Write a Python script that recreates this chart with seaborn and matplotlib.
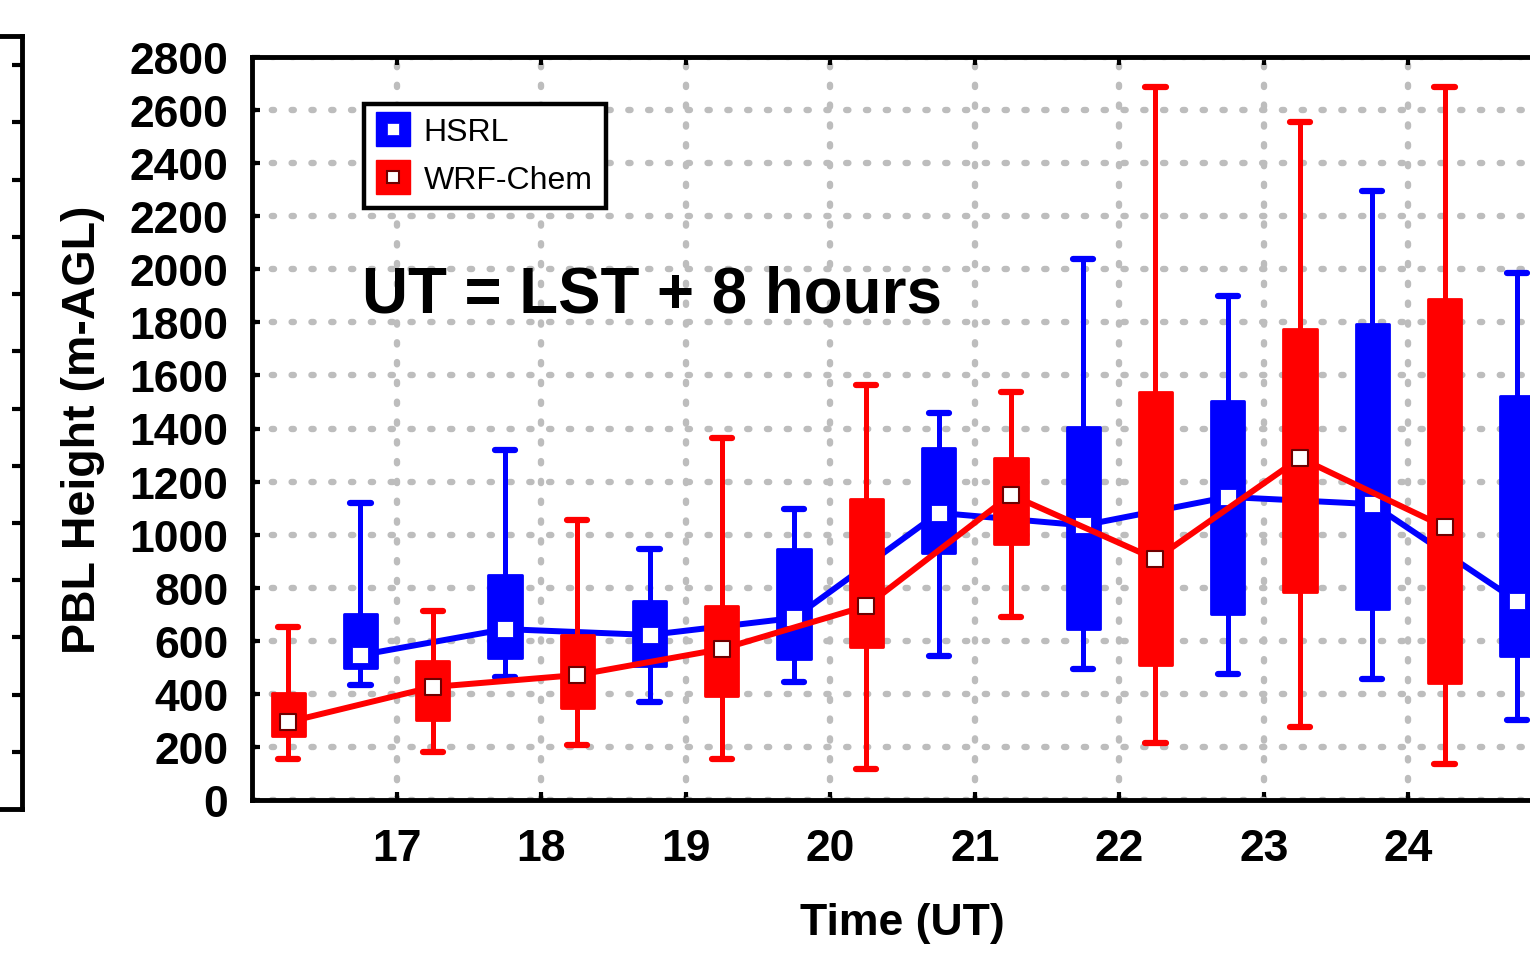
import numpy as np
import pandas as pd
import matplotlib
matplotlib.use("Agg")
import matplotlib.pyplot as plt
from matplotlib.lines import Line2D
import seaborn as sns

# Half-hour bins (UT): WRF-Chem on the quarter hour, HSRL on the three-quarter hour
wrf_time = [16.25, 17.25, 18.25, 19.25, 20.25, 21.25, 22.25, 23.25, 24.25]
hsrl_time = [16.75, 17.75, 18.75, 19.75, 20.75, 21.75, 22.75, 23.75, 24.75]

# PBL height statistics (m AGL): whisker low, lower quartile, median, upper quartile, whisker high
wrf_min = [155, 180, 207, 155, 117, 690, 215, 275, 136]
wrf_q1 = [241, 301, 347, 392, 577, 963, 509, 784, 441]
wrf_med = [294, 426, 471, 569, 731, 1150, 908, 1289, 1029]
wrf_q3 = [405, 524, 622, 731, 1134, 1290, 1538, 1775, 1888]
wrf_max = [652, 712, 1055, 1364, 1564, 1538, 2687, 2555, 2687]

hsrl_min = [433, 465, 369, 445, 543, 494, 475, 456, 301]
hsrl_q1 = [497, 535, 505, 531, 931, 644, 701, 720, 543]
hsrl_med = [546, 644, 622, 686, 1082, 1035, 1142, 1115, 750]
hsrl_q3 = [701, 848, 750, 946, 1326, 1404, 1504, 1794, 1522]
hsrl_max = [1119, 1319, 946, 1097, 1458, 2040, 1899, 2295, 1986]

y_ticks = list(range(0, 2801, 200))
x_ticks = [17, 18, 19, 20, 21, 22, 23, 24]

BLUE = "#0000ff"
RED = "#ff0000"
FONT = ["Liberation Sans", "DejaVu Sans"]
BOX_WIDTH = 0.23
CAP_WIDTH = 0.14


def five_number_frame(times, lo, q1, med, q3, hi):
    # five values per bin reproduce the quartiles exactly under linear interpolation
    rows = []
    for t, a, b, c, d, e in zip(times, lo, q1, med, q3, hi):
        for v in (a, b, c, d, e):
            rows.append({"time": t, "height": v})
    return pd.DataFrame(rows)


wrf_df = five_number_frame(wrf_time, wrf_min, wrf_q1, wrf_med, wrf_q3, wrf_max)
hsrl_df = five_number_frame(hsrl_time, hsrl_min, hsrl_q1, hsrl_med, hsrl_q3, hsrl_max)

sns.set_theme(style="white")
plt.rcParams["font.family"] = FONT
plt.rcParams["text.color"] = "black"
plt.rcParams["axes.labelcolor"] = "black"
plt.rcParams["xtick.color"] = "black"
plt.rcParams["ytick.color"] = "black"

fig = plt.figure(figsize=(15.3, 9.54), dpi=100)

# neighbouring panel, only its right edge falls inside the figure
ax0 = fig.add_axes([0.01438 - 0.5, 0.1509, 0.5, 0.9612 - 0.1509])
ax0.set_xlim(0, 1)
ax0.set_ylim(0, 13.51)
ax0.set_yticks(np.arange(1, 14))
ax0.set_xticks([])
ax0.tick_params(axis="y", which="both", direction="in", length=7, width=3,
                left=False, right=True, labelleft=False, labelright=False, color="black")
for side in ("top", "right", "bottom", "left"):
    ax0.spines[side].set_color("black")
    ax0.spines[side].set_linewidth(3.5)

ax = fig.add_axes([252 / 1530, 1 - 801 / 954, 1301 / 1530, (801 - 58) / 954])


def boxes(df, color, z):
    n_patch, n_line = len(ax.patches), len(ax.lines)
    sns.boxplot(data=df, x="time", y="height", native_scale=True, width=BOX_WIDTH,
                whis=np.inf, color=color, saturation=1, linecolor=color,
                fliersize=0, linewidth=2,
                boxprops=dict(linewidth=2, joinstyle="round"),
                whiskerprops=dict(linewidth=3.6),
                capprops=dict(linewidth=4.5, solid_capstyle="round"),
                medianprops=dict(linewidth=0, alpha=0),
                ax=ax)
    for p in ax.patches[n_patch:]:
        p.set_zorder(z)
    for ln in ax.lines[n_line:]:
        ln.set_zorder(z)
        xd, yd = np.asarray(ln.get_xdata(), float), np.asarray(ln.get_ydata(), float)
        # widen the whisker caps a little
        if len(xd) == 2 and yd[0] == yd[1] and abs((xd[1] - xd[0]) - BOX_WIDTH / 2) < 1e-6:
            mid = xd.mean()
            ln.set_xdata([mid - CAP_WIDTH / 2, mid + CAP_WIDTH / 2])


boxes(hsrl_df, BLUE, 2)
sns.lineplot(x=hsrl_time, y=hsrl_med, color=BLUE, linewidth=4.3, ax=ax, zorder=3)
sns.scatterplot(x=hsrl_time, y=hsrl_med, marker="s", s=120, color="white",
                edgecolor=BLUE, linewidth=0.6, ax=ax, zorder=3.5, legend=False)

boxes(wrf_df, RED, 4)
sns.lineplot(x=wrf_time, y=wrf_med, color=RED, linewidth=4.3, ax=ax, zorder=5)
sns.scatterplot(x=wrf_time, y=wrf_med, marker="s", s=125, color="white",
                edgecolor="#6e0000", linewidth=1.5, ax=ax, zorder=6, legend=False)

ax.set_xlim(16, 25)
ax.set_ylim(0, 2800)
ax.set_xticks(x_ticks)
ax.set_xticklabels([str(t) for t in x_ticks])
ax.set_yticks(y_ticks)
ax.set_yticklabels([str(v) for v in y_ticks])

ax.grid(True, color="#bdbdbd", linewidth=4.6, linestyle=(0, (0.35, 2.75)),
        dash_capstyle="round")
ax.set_axisbelow(True)

ax.tick_params(axis="both", which="major", direction="in", length=6, width=3,
               color="black", top=True, bottom=True, left=True, right=False)
ax.tick_params(axis="y", pad=17, labelsize=32, labelcolor="black")
ax.tick_params(axis="x", pad=20, labelsize=32, labelcolor="black")
for lbl in ax.get_xticklabels() + ax.get_yticklabels():
    lbl.set_fontweight("bold")
for side in ("top", "right", "bottom", "left"):
    ax.spines[side].set_color("black")
    ax.spines[side].set_linewidth(3.5)

ax.set_xlabel("Time (UT)", fontsize=32, fontweight="bold", color="black")
ax.xaxis.set_label_coords(0.5, -0.137)
ax.set_ylabel("PBL Height (m-AGL)", fontsize=33.5, fontweight="bold", color="black")
ax.yaxis.set_label_coords(-0.113, 0.5)

ax.text(0.0846, 0.657, "UT = LST + 8 hours", transform=ax.transAxes,
        fontsize=45.8, fontweight="bold", ha="left", va="baseline", color="black",
        zorder=7)

hsrl_handle = (Line2D([], [], marker="s", ms=24, color=BLUE, ls="", mec=BLUE),
               Line2D([], [], marker="s", ms=9, mfc="white", mec=BLUE, mew=0.5, ls=""))
wrf_handle = (Line2D([], [], marker="s", ms=24, color=RED, ls="", mec=RED),
              Line2D([], [], marker="s", ms=9, mfc="white", mec="#6e0000", mew=1.5, ls=""))
leg = ax.legend([hsrl_handle, wrf_handle], ["HSRL", "WRF-Chem"],
                loc="upper left", bbox_to_anchor=(0.0861, 0.9367),
                borderaxespad=0, fontsize=23, frameon=True, fancybox=False,
                edgecolor="black", framealpha=1, handlelength=1.0,
                handletextpad=0.45, labelspacing=0.55, borderpad=0.42)
leg.get_frame().set_linewidth(3.2)
leg.set_zorder(8)
for txt in leg.get_texts():
    txt.set_color("black")

fig.savefig("out.png", dpi=100)
